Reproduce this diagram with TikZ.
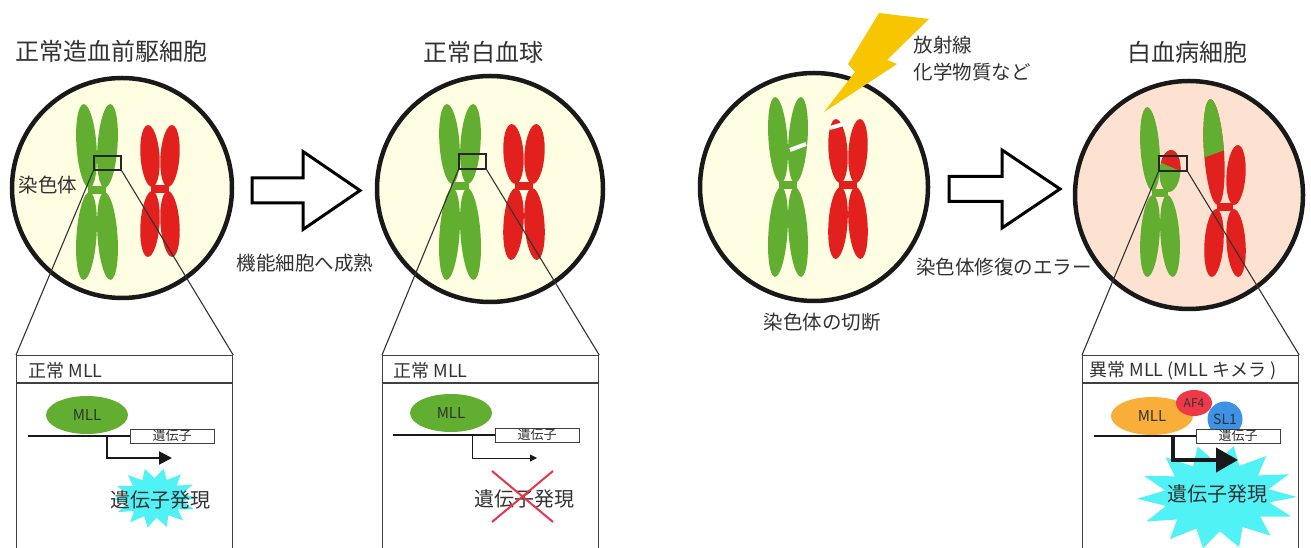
\documentclass[tikz,border=0pt]{standalone}
\usepackage{fontspec}
\setmainfont{Noto Sans CJK JP}
\usetikzlibrary{arrows.meta,shapes.geometric}

\definecolor{cellyel}{RGB}{255,253,226}
\definecolor{cellpink}{RGB}{253,226,210}
\definecolor{chrgreen}{RGB}{98,174,48}
\definecolor{chrred}{RGB}{226,32,30}
\definecolor{burst}{RGB}{80,242,246}
\definecolor{bolt}{RGB}{247,198,0}
\definecolor{mllorange}{RGB}{250,174,58}
\definecolor{afred}{RGB}{238,58,72}
\definecolor{slblue}{RGB}{60,146,228}
\definecolor{crossred}{RGB}{232,52,76}
\definecolor{txt}{RGB}{50,50,50}

% one chromatid: centre x, centre y, half width, half length, tilt, colour
\newcommand{\arm}[6]{\fill[#6, rotate around={#5:(#1,#2)}] (#1,#2) ellipse [x radius=#3, y radius=#4];}
% chromosome: centromere x, y, upper arm, lower arm, half width, colour
\newcommand{\chromo}[6]{%
  \arm{#1-#5-0.5}{#2+2+#3}{#5}{#3}{4}{#6}
  \arm{#1+#5+0.5}{#2+2+#3}{#5}{#3}{-4}{#6}
  \arm{#1-#5-0.5}{#2-2-#4}{#5}{#4}{-4}{#6}
  \arm{#1+#5+0.5}{#2-2-#4}{#5}{#4}{4}{#6}
  \fill[#6] (#1-0.9*#5,#2-4) rectangle (#1+0.9*#5,#2+4);}
% star burst: centre x, y, x radius, y radius
\newcommand{\burst}[4]{%
  \begin{scope}[shift={(#1,#2)}, xscale=#3, yscale=#4]
    \fill[burst] (0:1) \foreach \a in {13,26,...,351}{ -- (\a:{ifthenelse(mod(\a,26)==0,1,0.66)}) } -- cycle;
  \end{scope}}

\begin{document}
\begin{tikzpicture}[x=1pt, y=1pt,
  cell/.style={circle, draw=black!90, line width=4.5pt, inner sep=0pt},
  title/.style={text=txt, font=\fontsize{24}{28}\selectfont},
  lbl/.style={text=txt, font=\fontsize{19.5}{24}\selectfont},
  zoombox/.style={draw=black!85, line width=1.2pt, inner sep=0pt},
  zoomline/.style={draw=black!80, line width=1.1pt},
  mllbox/.style={draw=black!75, line width=1.2pt, inner sep=0pt, minimum width=216pt, minimum height=220pt, anchor=north west},
  head/.style={text=txt, anchor=west, font=\fontsize{18}{21}\selectfont},
  protein/.style={ellipse, inner sep=0pt, minimum width=82pt, minimum height=38pt, text=txt, font=\fontsize{15}{15}\selectfont},
  gene/.style={draw=black!75, fill=white, line width=0.8pt, inner sep=0pt, minimum width=84pt, minimum height=14pt, text=txt, font=\fontsize{13}{13}\selectfont},
  dna/.style={line width=2pt, black!90},
  expr/.style={text=txt, font=\fontsize{20}{24}\selectfont},
  bigarrow/.style={draw=black, line width=3pt, fill=white, line join=miter}]

\useasboundingbox (0,0) rectangle (1311,548);

% cells
\node[cell, fill=cellyel, minimum size=220pt] (prog) at (122,360) {};
\node[cell, fill=cellyel, minimum size=226pt] (wbc) at (490,359) {};
\node[cell, fill=cellyel, minimum size=228pt] (cut) at (814,361) {};
\node[cell, fill=cellpink, minimum size=228pt] (leuk) at (1189,353) {};

\node[title] (t1) at (112,497) {正常造血前駆細胞};
\node[title] (t2) at (483,496) {正常白血球};
\node[title] (t4) at (1187,496) {白血病細胞};

% normal chromosomes
\chromo{97}{358}{42}{44}{10}{chrgreen}
\chromo{160}{359}{31}{33}{9.5}{chrred}
\chromo{460}{362}{40}{46}{10}{chrgreen}
\chromo{524}{362}{30}{36}{10}{chrred}
\node[lbl] (chrlbl) at (48,363) {染色体};

% broken chromosomes
\chromo{788}{363}{43}{45}{9.5}{chrgreen}
\chromo{848}{363}{32}{36}{9.5}{chrred}
\draw[white, line width=4pt] (790,398) -- (806,404);
\draw[white, line width=4pt] (830,420) -- (847,425);
\fill[bolt] (879,535) -- (929,529) -- (887,488) -- (897,484) -- (824,436) -- (855,476) -- (848,484) -- cycle;
\node[lbl, anchor=west] (rad) at (910,503) {放射線};
\node[lbl, anchor=west] (chem) at (910,476) {化学物質など};
\node[lbl] (cutlbl) at (822,226) {染色体の切断};

% translocated chromosomes
\arm{1150}{399}{9.5}{42}{4}{chrgreen}
\arm{1150}{312}{9.5}{41}{-4}{chrgreen}
\arm{1170}{312}{9.5}{41}{4}{chrgreen}
\fill[chrgreen] (1152,351) rectangle (1168,359);
\begin{scope}
  \clip[rotate around={-4:(1170,377)}] (1170,377) ellipse [x radius=10.5, y radius=21];
  \fill[chrgreen] (1155,350) rectangle (1185,400);
  \fill[chrred] (1155,388) -- (1185,375) -- (1185,405) -- (1155,405) -- cycle;
\end{scope}
\begin{scope}
  \clip[rotate around={4:(1214,396)}] (1214,396) ellipse [x radius=10, y radius=53];
  \fill[chrred] (1200,340) rectangle (1230,450);
  \fill[chrgreen] (1198,388) -- (1230,400) -- (1230,452) -- (1198,452) -- cycle;
\end{scope}
\arm{1236}{373}{9.5}{30}{-4}{chrred}
\arm{1214}{305}{9.5}{34}{-4}{chrred}
\arm{1236}{305}{9.5}{34}{4}{chrred}
\fill[chrred] (1217,337) rectangle (1233,345);

% arrows between cells
\draw[bigarrow] (252,345) -- ++(0,25) -- ++(51,0) -- ++(0,26.5) -- ++(57,-39) -- ++(-57,-39) -- ++(0,26.5) -- cycle;
\draw[bigarrow] (949,346.5) -- ++(0,25) -- ++(53,0) -- ++(0,26.5) -- ++(58,-39) -- ++(-58,-39) -- ++(0,26.5) -- cycle;
\node[lbl] (mature) at (305,285) {機能細胞へ成熟};
\node[lbl] (repair) at (1004,281) {染色体修復のエラー};

% zoomed regions
\node[zoombox, minimum width=27pt, minimum height=14pt] (z1) at (107.5,385) {};
\node[zoombox, minimum width=27pt, minimum height=15pt] (z2) at (472.5,386.5) {};
\node[zoombox, minimum width=28pt, minimum height=15pt] (z4) at (1173,384.5) {};

\node[mllbox] (box1) at (16,193) {};
\node[mllbox] (box2) at (382,193) {};
\node[mllbox] (box4) at (1082,193) {};
\foreach \b/\z in {box1/z1, box2/z2, box4/z4}{
  \draw[zoomline] (\z.south west) -- (\b.north west);
  \draw[zoomline] (\z.south east) -- (\b.north east);
  \draw[draw=black!75, line width=1.2pt] ([yshift=-28pt]\b.north west) -- ([yshift=-28pt]\b.north east);
}
\node[head] (h1) at (25,177) {正常 MLL};
\node[head] (h2) at (390,177) {正常 MLL};
\node[head] (h4) at (1086,177) {異常 MLL (MLL キメラ )};

% normal MLL
\burst{155}{50}{42}{30}
\node[protein, fill=chrgreen] (mll1) at (87,133) {MLL};
\node[gene] (gene1) at (172,112) {遺伝子};
\coordinate (dna1) at (28,112);
\coordinate (tss1) at (107,112);
\coordinate (out1) at (172,90);
\draw[dna] (dna1) -- (gene1.west);
\draw[dna, -{Triangle[length=13pt,width=13pt]}] (tss1) |- (out1);
\node[expr] (expr1) at (160,48) {遺伝子発現};

% mature cell
\node[protein, fill=chrgreen] (mll2) at (451,135) {MLL};
\node[gene] (gene2) at (537,113) {遺伝子};
\coordinate (dna2) at (393,113);
\coordinate (tss2) at (472,113);
\coordinate (out2) at (537,90);
\draw[dna] (dna2) -- (gene2.west);
\draw[line width=0.8pt, black!90, -{Triangle[length=7pt,width=7pt]}] (tss2) |- (out2);
\node[expr] (expr2) at (524,49) {遺伝子発現};
\draw[crossred, line width=2pt] ([shift={(-32,28)}]expr2.center) -- ([shift={(29,-23)}]expr2.center);
\draw[crossred, line width=2pt] ([shift={(29,28)}]expr2.center) -- ([shift={(-32,-23)}]expr2.center);

% MLL fusion
\burst{1217}{51}{80}{52}
\node[protein, fill=mllorange] (mll4) at (1152,132) {MLL};
\node[protein, fill=afred, minimum width=36pt, minimum height=26pt, font=\fontsize{12}{12}\selectfont] (af4) at (1194,145) {AF4};
\node[protein, fill=slblue, minimum width=35pt, minimum height=35pt, font=\fontsize{14}{14}\selectfont] (sl1) at (1225,129) {SL1};
\node[gene] (gene4) at (1238,112) {遺伝子};
\coordinate (dna4) at (1094,112);
\coordinate (tss4) at (1173,112);
\coordinate (out4) at (1238,88);
\draw[dna] (dna4) -- (gene4.west);
\draw[line width=4pt, black!90, -{Triangle[length=22pt,width=24pt]}] (tss4) |- (out4);
\node[expr] (expr4) at (1217,54) {遺伝子発現};

\end{tikzpicture}
\end{document}
